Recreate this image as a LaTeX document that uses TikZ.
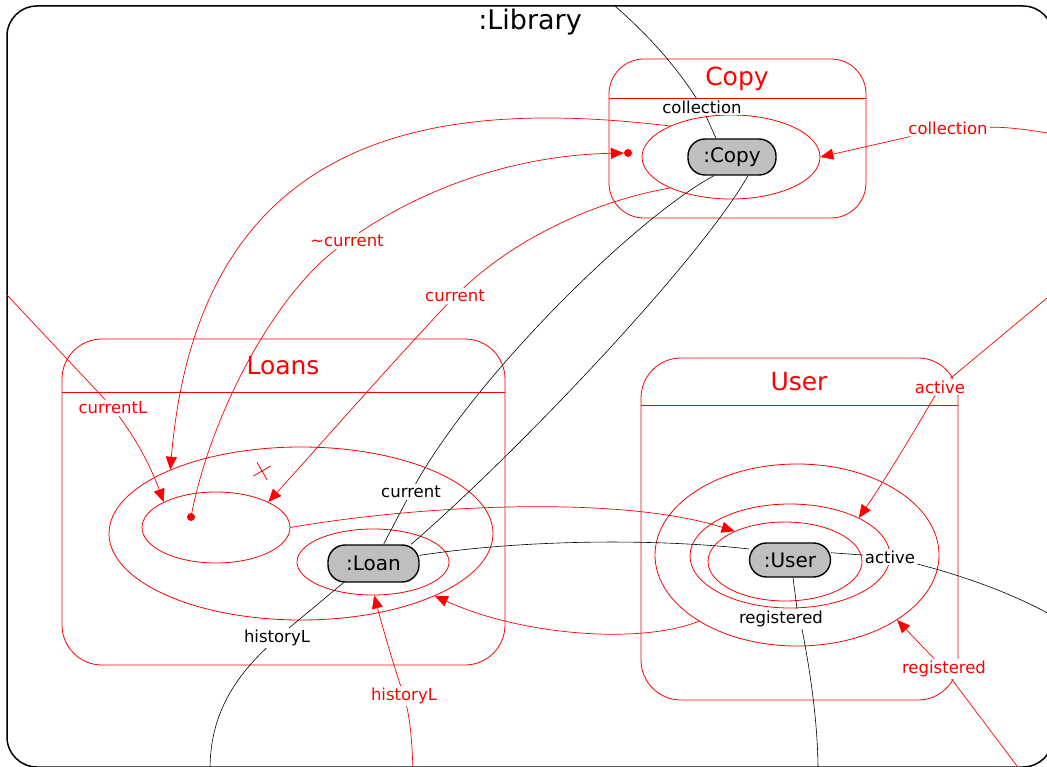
\documentclass[tikz,border=0pt]{standalone}
\usepackage{fontspec}
\setmainfont{DejaVu Sans}
\usetikzlibrary{arrows.meta,positioning,shapes.geometric}
\tikzset{%
  box/.style={rectangle,draw=red,rounded corners=40pt,line width=0.8pt,inner sep=0pt},
  sep/.style={draw=red,line width=0.8pt},
  set/.style={ellipse,draw=red,line width=0.8pt,inner sep=0pt},
  obj/.style={rectangle,draw=black,fill=black!25,rounded corners=17pt,line width=1.4pt,minimum width=88pt,minimum height=36pt,font=\fontsize{20}{22}\selectfont},
  boxtitle/.style={text=red,font=\fontsize{25}{28}\selectfont},
  lbl/.style={fill=white,inner sep=2pt,font=\fontsize{16.5}{18}\selectfont},
  rlbl/.style={lbl,text=red},
  link/.style={draw=black,line width=0.6pt},
  rline/.style={draw=red,line width=0.7pt},
  rlink/.style={rline,-{Triangle[length=13pt,width=11pt]}},
  bullet/.style={circle,fill=red,inner sep=0pt,minimum size=8pt}%
}
\begin{document}
\begin{tikzpicture}[x=1pt,y=1pt]
  \useasboundingbox (0,0) rectangle (1047,-767);
  \clip (0,0) rectangle (1047,-767);

  \node (library) [draw,line width=1.5pt,rounded corners=30pt,inner sep=0pt,minimum width=1046pt,minimum height=761pt] at (530,-386.5) {};
  \node (library_title) [font=\fontsize{27}{30}\selectfont] at (530,-22) {:Library};

  % Copy
  \node (copy_box) [box,rounded corners=35pt,minimum width=257pt,minimum height=159pt] at (737.5,-138.5) {};
  \path[sep] ([yshift=-40pt]copy_box.north west) -- ([yshift=-40pt]copy_box.north east);
  \node (copy_title) [boxtitle] at (737,-79) {Copy};
  \node (copy_set) [set,minimum width=178pt,minimum height=84pt] at (731,-157) {};
  \node (copy_obj) [obj] at (732,-157) {:Copy};
  \node (copy_dot) [bullet] at (628,-153) {};

  % Loans
  \node (loans_box) [box,minimum width=443pt,minimum height=326pt] at (283.5,-502) {};
  \path[sep] ([yshift=-54pt]loans_box.north west) -- ([yshift=-54pt]loans_box.north east);
  \node (loans_title) [boxtitle] at (283,-366) {Loans};
  \node (loans_set) [set,minimum width=384pt,minimum height=173pt] at (301,-533.5) {};
  \node (current_set) [set,minimum width=148pt,minimum height=71pt] at (216,-527.5) {};
  \node (loan_set) [set,minimum width=152pt,minimum height=66pt] at (373,-562) {};
  \node (loan_obj) [obj,minimum width=91pt,minimum height=37pt] at (373.5,-563.5) {:Loan};
  \node (loan_dot) [bullet] at (191,-517) {};
  \path[sep,rotate around={30:(262,-471)}] (252,-471) -- (272,-471) (262,-461) -- (262,-481);

  % User
  \node (user_box) [box,minimum width=317pt,minimum height=342pt] at (799.5,-529) {};
  \path[sep] ([yshift=-48pt]user_box.north west) -- ([yshift=-48pt]user_box.north east);
  \node (user_title) [boxtitle] at (799,-382) {User};
  \node (registered_set) [set,minimum width=284pt,minimum height=182pt] at (797,-555) {};
  \node (active_set) [set,minimum width=200pt,minimum height=104pt] at (790,-556) {};
  \node (borrower_set) [set,minimum width=154pt,minimum height=79pt] at (785,-561.5) {};
  \node (user_obj) [obj,minimum width=81pt,minimum height=34pt] at (790,-560) {:User};

  % labels
  \node (copy_coll) [lbl] at (702,-107) {collection};
  \node (loan_current) [lbl] at (411,-492) {current};
  \node (loan_history) [lbl] at (277,-638) {historyL};
  \node (user_active) [lbl] at (890,-557) {active};
  \node (user_registered) [lbl] at (781,-619) {registered};
  \node (coll_lbl) [rlbl] at (948,-128) {collection};
  \node (tcurrent_lbl) [rlbl] at (347,-241) {\textasciitilde current};
  \node (current_lbl) [rlbl] at (455,-296) {current};
  \node (currentl_lbl) [rlbl] at (113,-408) {currentL};
  \node (historyl_lbl) [rlbl] at (404,-696) {historyL};
  \node (active_lbl) [rlbl] at (940,-387) {active};
  \node (registered_lbl) [rlbl] at (944,-669) {registered};

  \coordinate (top_exit) at (615,-6);
  \coordinate (left_exit) at (7,-295);
  \coordinate (coll_exit) at (1053,-134);
  \coordinate (active_exit) at (1053,-293);
  \coordinate (user_exit) at (1053,-616);
  \coordinate (hist_exit) at (210,-770);
  \coordinate (rhist_exit) at (413,-770);
  \coordinate (reg_exit) at (818,-770);
  \coordinate (rreg_exit) at (1020,-770);

  % object links
  \draw[link] (top_exit) .. controls (648,-35) and (675,-65) .. (copy_coll);
  \path (copy_coll) edge[link] ([xshift=-16pt]copy_obj.north);
  \draw[link] ([xshift=-18pt]copy_obj.south) .. controls (640,-215) and (480,-370) .. (loan_current);
  \draw[link] ([xshift=16pt]copy_obj.south) .. controls (700,-260) and (520,-450) .. (loan_obj.27);
  \path (loan_current) edge[link] (loan_obj);
  \draw[link] (loan_obj.10) .. controls (520,-540) and (650,-538) .. (user_obj.165);
  \path ([xshift=-30pt]loan_obj.south) edge[link] (loan_history);
  \draw[link] (loan_history) .. controls (222,-690) and (210,-730) .. (hist_exit);
  \path (user_obj.10) edge[link] (user_active);
  \draw[link] (user_active) .. controls (960,-575) and (1010,-592) .. (user_exit);
  \path ([xshift=3pt]user_obj.south) edge[link] ([xshift=16pt]user_registered.north);
  \draw[link] ([xshift=21pt]user_registered.south) .. controls (812,-680) and (818,-730) .. (reg_exit);

  % set links
  \path (left_exit) edge[rline] (currentl_lbl);
  \draw[rlink] (currentl_lbl) .. controls (140,-445) and (152,-470) .. (current_set.154);
  \draw[rlink] (copy_set.153) .. controls (450,-100) and (200,-120) .. (loans_set.154);
  \draw[rline] (loan_dot) .. controls (210,-420) and (270,-300) .. (tcurrent_lbl);
  \draw[rlink] (tcurrent_lbl) .. controls (430,-185) and (520,-155) .. (copy_dot);
  \draw[rline] (copy_set.207) .. controls (600,-200) and (520,-235) .. (current_lbl);
  \draw[rlink] (current_lbl) .. controls (390,-365) and (320,-445) .. (current_set.26);
  \draw[rline] (coll_exit) .. controls (1020,-128) and (1000,-127) .. (coll_lbl);
  \path (coll_lbl) edge[rlink] (copy_set.0);
  \draw[rlink] (current_set.east) .. controls (420,-505) and (620,-495) .. (borrower_set.149);
  \draw[rlink] (registered_set.214) .. controls (640,-645) and (520,-635) .. (loans_set.335);
  \draw[rline] (rhist_exit) .. controls (412,-740) and (410,-720) .. (historyl_lbl);
  \draw[rlink] (historyl_lbl) .. controls (392,-660) and (382,-625) .. (loan_set.272);
  \path (active_exit) edge[rline] (active_lbl);
  \draw[rlink] (active_lbl) .. controls (915,-430) and (885,-480) .. (active_set.29);
  \path (rreg_exit) edge[rline] (registered_lbl);
  \path (registered_lbl) edge[rlink] (registered_set.327);
\end{tikzpicture}
\end{document}
